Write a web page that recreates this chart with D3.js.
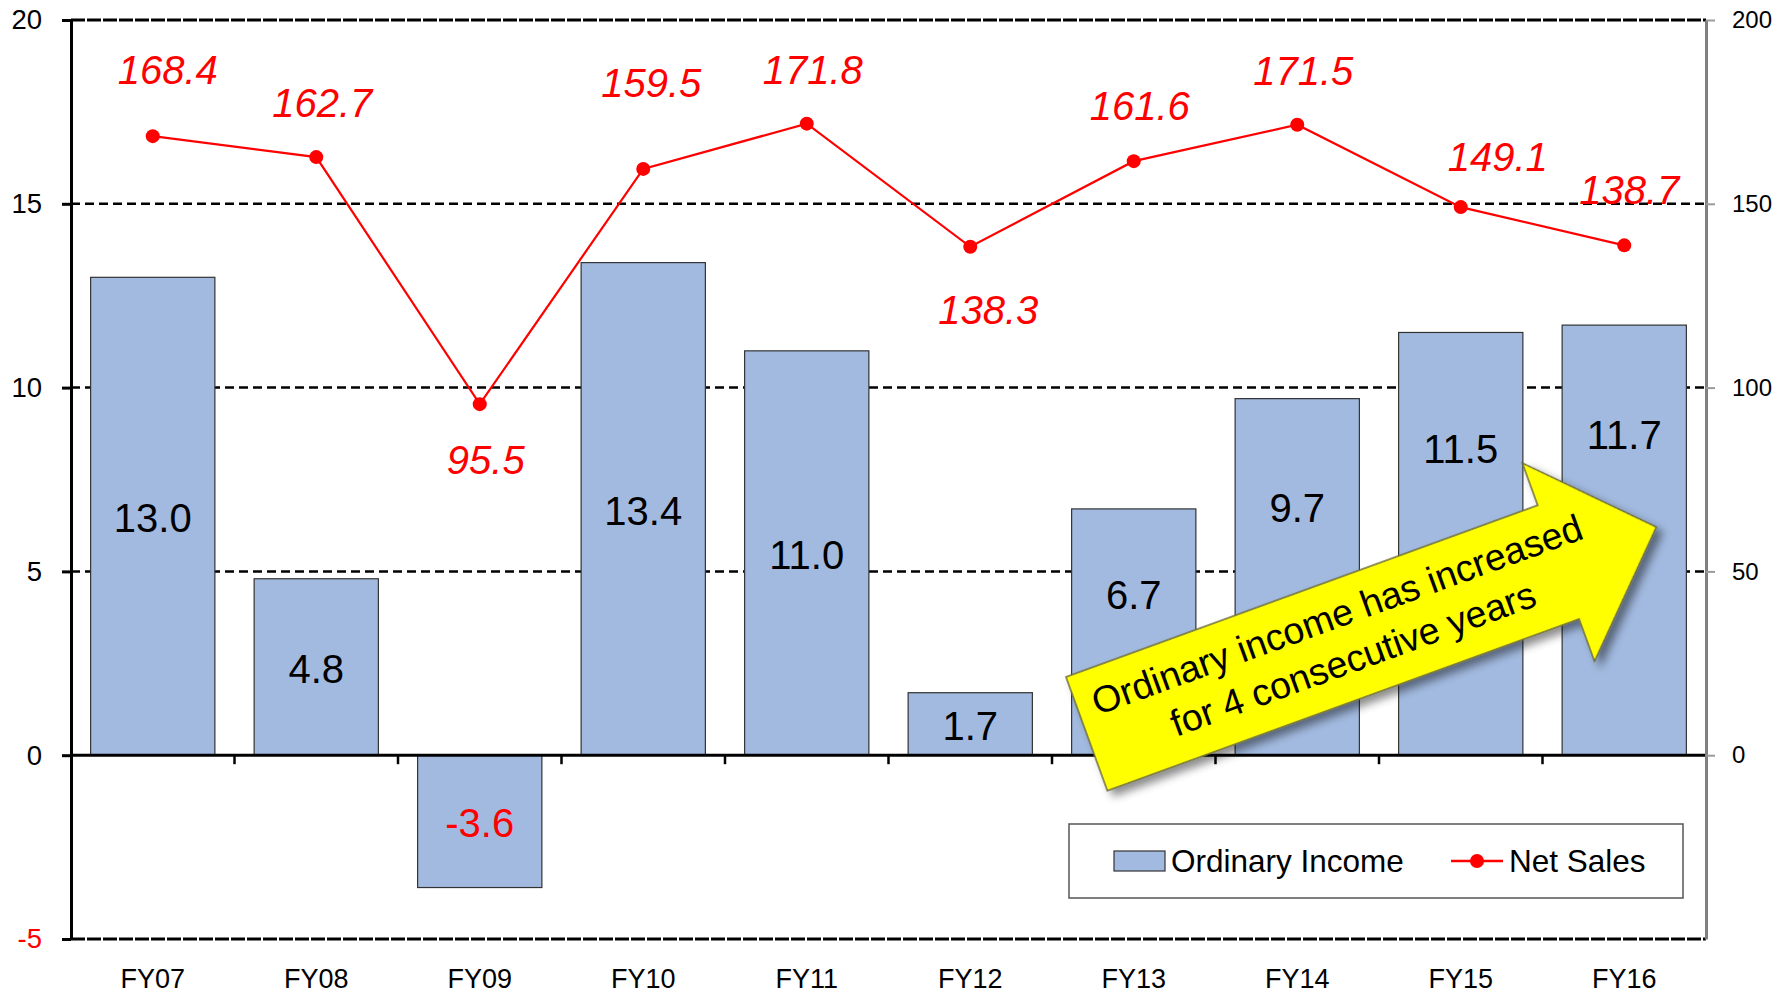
<!DOCTYPE html>
<html>
<head>
<meta charset="utf-8">
<script src="https://cdn.jsdelivr.net/npm/d3@7"></script>
<style>
  body { margin: 0; background: #fff; }
  svg { display: block; font-family: "Liberation Sans", Arial, sans-serif; }
</style>
</head>
<body>
<div id="vis"></div>
<script>
    // data
    var years = ["FY07", "FY08", "FY09", "FY10", "FY11", "FY12", "FY13", "FY14", "FY15", "FY16"];
    var ordinaryIncome = [13.0, 4.8, -3.6, 13.4, 11.0, 1.7, 6.7, 9.7, 11.5, 11.7];
    var netSales = [168.4, 162.7, 95.5, 159.5, 171.8, 138.3, 161.6, 171.5, 149.1, 138.7];
    var leftTicks = [-5, 0, 5, 10, 15, 20];
    var rightTicks = [0, 50, 100, 150, 200];

    // label placement (layout, not data)
    var barLabelAt = [0.5, 0.5, 0.5, 0.5, 0.5, 0.5, 0.66, 0.70, 0.73, 0.75];
    var salesLabelOff = [[15, -66], [6, -54], [6, 56], [8, -86], [6, -54], [18, 63], [6, -55], [6, -54], [37, -50], [5, -55]];

    var W = 1791, H = 993,
        plotL = 71, plotR = 1706, plotT = 20, plotB = 939;

    var svg = d3.select("#vis").append("svg").attr("width", W).attr("height", H);

    var defs = svg.append("defs");
    defs.append("filter").attr("id", "shadow")
        .attr("x", "-20%").attr("y", "-20%").attr("width", "140%").attr("height", "140%")
        .append("feDropShadow").attr("dx", 4).attr("dy", 7).attr("stdDeviation", 4)
        .attr("flood-color", "#000").attr("flood-opacity", 0.45);

    var x = d3.scaleBand().domain(years).range([plotL, plotR]).paddingInner(0.24).paddingOuter(0.12);
    var y = d3.scaleLinear().domain([-5, 20]).range([plotB, plotT]);
    var y2 = d3.scaleLinear().domain([-50, 200]).range([plotB, plotT]);

    // gridlines
    svg.append("g").selectAll("line").data([5, 10, 15]).join("line")
        .attr("x1", plotL).attr("x2", plotR)
        .attr("y1", d => y(d)).attr("y2", d => y(d))
        .attr("stroke", "#000").attr("stroke-width", 2.5).attr("stroke-dasharray", "9,5");
    svg.append("g").selectAll("line").data([-5, 20]).join("line")
        .attr("x1", plotL).attr("x2", plotR)
        .attr("y1", d => y(d)).attr("y2", d => y(d))
        .attr("stroke", "#000").attr("stroke-width", 3).attr("stroke-dasharray", "14,2");

    // bars
    svg.append("g").selectAll("rect").data(ordinaryIncome).join("rect")
        .attr("x", (d, i) => x(years[i]))
        .attr("width", x.bandwidth())
        .attr("y", d => y(Math.max(0, d)))
        .attr("height", d => Math.abs(y(d) - y(0)))
        .attr("fill", "#a2bae0").attr("stroke", "#333").attr("stroke-width", 1.2);

    // zero line + category ticks
    svg.append("line").attr("x1", plotL).attr("x2", plotR).attr("y1", y(0)).attr("y2", y(0))
        .attr("stroke", "#000").attr("stroke-width", 3);
    svg.append("g").selectAll("line").data(years.slice(1)).join("line")
        .attr("x1", d => x(d) - x.step() * x.paddingInner() / 2)
        .attr("x2", d => x(d) - x.step() * x.paddingInner() / 2)
        .attr("y1", y(0)).attr("y2", y(0) + 9)
        .attr("stroke", "#000").attr("stroke-width", 2.5);

    // left axis
    var gL = svg.append("g").attr("transform", "translate(" + plotL + ",0)")
        .call(d3.axisLeft(y).tickValues(leftTicks).tickFormat(d => String(d))
            .tickSize(9).tickPadding(20).tickSizeOuter(0));
    gL.select(".domain").attr("stroke", "#000").attr("stroke-width", 3);
    gL.selectAll(".tick line").attr("stroke", "#000").attr("stroke-width", 3);
    gL.selectAll(".tick text").attr("font-size", 27.5).attr("font-family", "Liberation Sans")
        .attr("fill", d => d < 0 ? "#ff0000" : "#000");

    // right axis
    var gR = svg.append("g").attr("transform", "translate(" + plotR + ",0)")
        .call(d3.axisRight(y2).tickValues(rightTicks).tickFormat(d => String(d))
            .tickSize(9).tickPadding(17).tickSizeOuter(0));
    gR.select(".domain").attr("stroke", "#808080").attr("stroke-width", 3);
    gR.selectAll(".tick line").attr("stroke", "#9a9a9a").attr("stroke-width", 2);
    gR.selectAll(".tick text").attr("font-size", 24).attr("font-family", "Liberation Sans").attr("fill", "#000");

    // x labels
    svg.append("g").selectAll("text").data(years).join("text")
        .attr("x", d => x(d) + x.bandwidth() / 2).attr("y", 988)
        .attr("text-anchor", "middle").attr("font-size", 27).text(d => d);

    // bar labels
    svg.append("g").selectAll("text").data(ordinaryIncome).join("text")
        .attr("x", (d, i) => x(years[i]) + x.bandwidth() / 2)
        .attr("y", (d, i) => y(d * barLabelAt[i]) + 16)
        .attr("text-anchor", "middle").attr("font-size", 40)
        .attr("fill", d => d < 0 ? "#ff0000" : "#000")
        .text(d => d.toFixed(1));

    // net sales line
    var cx = (d, i) => x(years[i]) + x.bandwidth() / 2;
    svg.append("path").datum(netSales)
        .attr("d", d3.line().x(cx).y(d => y2(d)))
        .attr("fill", "none").attr("stroke", "#ff0000").attr("stroke-width", 2.2);
    svg.append("g").selectAll("circle").data(netSales).join("circle")
        .attr("cx", cx).attr("cy", d => y2(d)).attr("r", 7).attr("fill", "#ff0000");
    svg.append("g").selectAll("text").data(netSales).join("text")
        .attr("x", (d, i) => cx(d, i) + salesLabelOff[i][0])
        .attr("y", (d, i) => y2(d) + salesLabelOff[i][1] + 14)
        .attr("text-anchor", "middle").attr("font-size", 40).attr("font-style", "italic")
        .attr("fill", "#ff0000").text(d => d.toFixed(1));

    // yellow arrow callout
    var arrow = svg.append("g").attr("transform", "translate(1066,677) rotate(-20)");
    arrow.append("path")
        .attr("d", "M0,0 L502,0 L502,-45 L606,61 L502,166 L502,121 L0,121 Z")
        .attr("fill", "#ffff00").attr("stroke", "#6b6b3a").attr("stroke-width", 1.5)
        .attr("filter", "url(#shadow)");
    arrow.append("text").attr("x", 276).attr("y", 47).attr("text-anchor", "middle")
        .attr("font-size", 37.5).text("Ordinary income has increased");
    arrow.append("text").attr("x", 276).attr("y", 94).attr("text-anchor", "middle")
        .attr("font-size", 37.5).text("for 4 consecutive years");

    // legend
    var lg = svg.append("g");
    lg.append("rect").attr("x", 1069).attr("y", 824).attr("width", 614).attr("height", 74)
        .attr("fill", "#fff").attr("stroke", "#555").attr("stroke-width", 1.5);
    lg.append("rect").attr("x", 1114).attr("y", 851).attr("width", 51).attr("height", 20)
        .attr("fill", "#a2bae0").attr("stroke", "#333").attr("stroke-width", 1.2);
    lg.append("text").attr("x", 1171).attr("y", 872).attr("font-size", 31.5).text("Ordinary Income");
    lg.append("line").attr("x1", 1451).attr("x2", 1503).attr("y1", 861).attr("y2", 861)
        .attr("stroke", "#ff0000").attr("stroke-width", 2.5);
    lg.append("circle").attr("cx", 1477).attr("cy", 861).attr("r", 7).attr("fill", "#ff0000");
    lg.append("text").attr("x", 1509).attr("y", 872).attr("font-size", 31.5).text("Net Sales");
</script>
</body>
</html>
